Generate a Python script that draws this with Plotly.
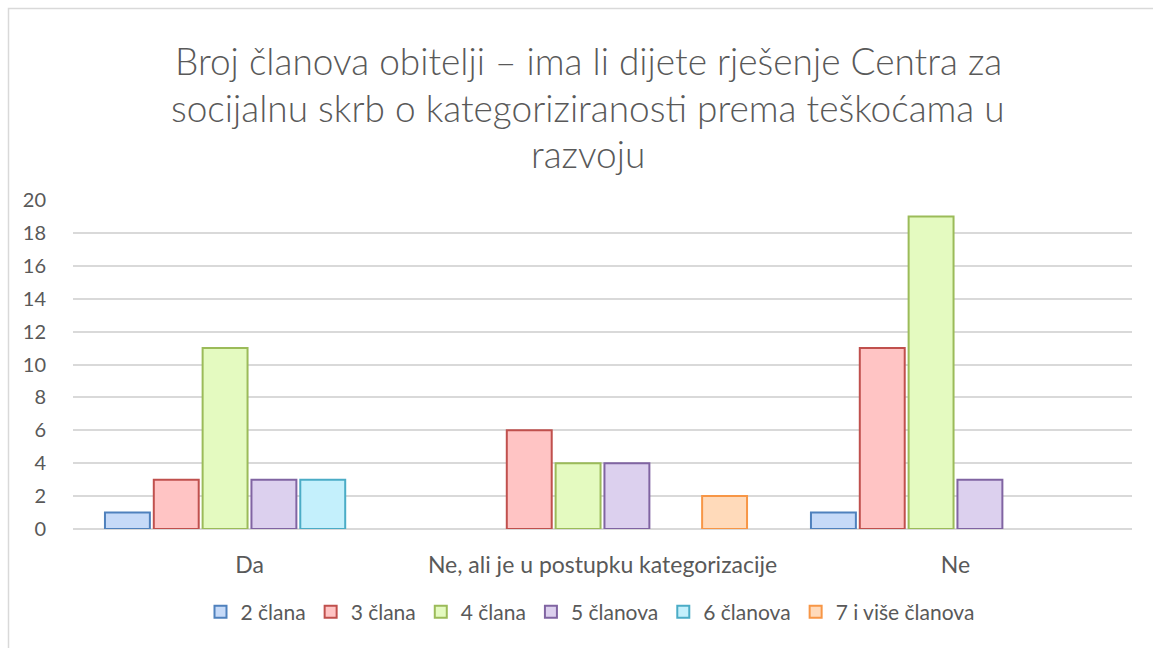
import plotly.graph_objects as go

# Category labels on the x axis
categories = ["Da", "Ne, ali je u postupku kategorizacije", "Ne"]

# Household size series (count of respondents per answer)
series_names = ["2 člana", "3 člana", "4 člana", "5 članova", "6 članova", "7 i više članova"]
s2 = [1, None, 1]
s3 = [3, 6, 11]
s4 = [11, 4, 19]
s5 = [3, 4, 3]
s6 = [3, None, None]
s7 = [None, 2, None]
series_values = [s2, s3, s4, s5, s6, s7]

y_ticks = [0, 2, 4, 6, 8, 10, 12, 14, 16, 18, 20]

title_lines = [
    "Broj članova obitelji – ima li dijete rješenje Centra za",
    "socijalnu skrb o kategoriziranosti prema teškoćama u",
    "razvoju",
]

fills = ["#C6DAF8", "#FFC4C4", "#E4FAC0", "#DCD0EE", "#C4F0FC", "#FFDABA"]
borders = ["#4F81BD", "#C0504D", "#9BBB59", "#8064A2", "#4BACC6", "#F79646"]

FONT = "Lato"
TXT = "#595959"
GRID = "#D9D9D9"

W, H = 1153, 648
L, R, T, B = 73, 21, 200, 119
plot_h = H - T - B


def py_to_paper(py):
    return (H - B - py) / plot_h


def px_to_paper(px):
    return (px - L) / (W - L - R)


fig = go.Figure()
for name, vals, fc, bc in zip(series_names, series_values, fills, borders):
    fig.add_trace(go.Bar(
        name=name, x=categories, y=vals,
        marker=dict(color=fc, line=dict(color=bc, width=2)),
    ))

# Title drawn line by line to get the wider line spacing
for i, line in enumerate(title_lines):
    fig.add_annotation(
        text=line, xref="paper", yref="paper",
        x=px_to_paper(588), y=py_to_paper(60 + 47 * i),
        xanchor="center", yanchor="middle", showarrow=False,
        font=dict(family=FONT, size=37, color=TXT, weight=300),
    )

# Chart-area border
fig.add_shape(
    type="rect", xref="paper", yref="paper",
    x0=px_to_paper(8.5), x1=px_to_paper(1200),
    y0=py_to_paper(700), y1=py_to_paper(8.5),
    line=dict(color=GRID, width=1.5), fillcolor="rgba(0,0,0,0)", layer="below",
)

fig.update_layout(
    width=W, height=H,
    margin=dict(l=L, r=R, t=T, b=B),
    paper_bgcolor="white", plot_bgcolor="white",
    barmode="group", bargap=0.17, bargroupgap=0.08,
    font=dict(family=FONT, color=TXT),
    showlegend=True,
    legend=dict(
        orientation="h", x=px_to_paper(590), y=py_to_paper(612),
        xanchor="center", yanchor="middle",
        font=dict(family=FONT, size=21, color=TXT),
        itemwidth=30, traceorder="normal",
    ),
)
fig.update_xaxes(
    showgrid=False, showline=False, zeroline=False,
    tickfont=dict(family=FONT, size=23, color=TXT),
    ticks="outside", ticklen=15, tickcolor="rgba(0,0,0,0)",
)
fig.update_yaxes(
    range=[0, 20], tickvals=y_ticks,
    showgrid=True, gridcolor=GRID, gridwidth=1.5,
    zeroline=True, zerolinecolor=GRID, zerolinewidth=1.5,
    showline=False,
    tickfont=dict(family=FONT, size=20, color=TXT),
    ticks="outside", ticklen=22, tickcolor="rgba(0,0,0,0)",
)

fig.write_html("out.html")
